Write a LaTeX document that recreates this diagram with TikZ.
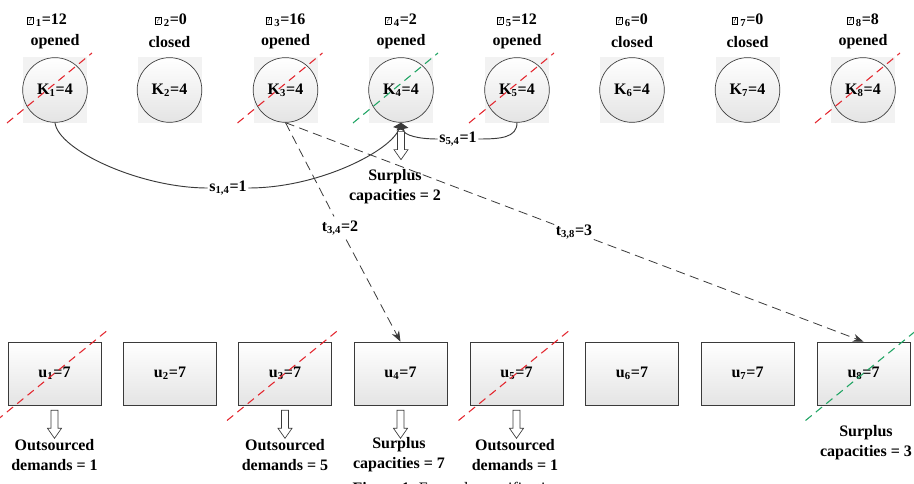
\documentclass[tikz,border=0pt]{standalone}
\usepackage{fontspec}
\setmainfont{Liberation Serif}
\usetikzlibrary{arrows.meta,positioning,backgrounds,calc}
\definecolor{fcink}{HTML}{3A3A3A}
\definecolor{fcpad}{HTML}{F2F2F2}
\definecolor{fcshade}{HTML}{E4E4E4}
\definecolor{cutred}{HTML}{E3262E}
\definecolor{cutgreen}{HTML}{1FA463}
\newcommand{\nochar}{{\setlength{\fboxsep}{0.5pt}\setlength{\fboxrule}{0.35pt}\raisebox{0.5pt}{\fbox{\fontsize{6.5}{6.5}\selectfont\mdseries ?}}}}

\begin{document}
\begin{tikzpicture}[
  x=0.75pt, y=-0.75pt,
  font=\fontsize{12}{15}\selectfont\bfseries,
  facility/.style={circle, draw=fcink, line width=0.5pt, top color=white,
    bottom color=fcshade, minimum size=48.5pt, inner sep=0pt},
  customer/.style={rectangle, draw=fcink, line width=0.5pt, top color=white,
    bottom color=fcshade, minimum width=69.75pt, minimum height=47.25pt},
  pad/.style={fill=fcpad},
  tag/.style={inner sep=1pt, align=center},
  link/.style={draw=fcink, line width=0.7pt},
  linkhead/.style={link, -{Triangle[length=5pt, width=9pt]}},
  flow/.style={draw=fcink, line width=0.6pt, dash pattern=on 7pt off 4pt},
  flowhead/.style={flow, -{Stealth[length=8pt, width=6pt]}},
  cut/.style={line width=0.8pt, dash pattern=on 6pt off 4pt},
  hollow/.pic={\draw[fill=white, draw=fcink, line width=0.5pt]
    (-3.5,0) -- (-3.5,18) -- (-7,18) -- (0,28) -- (7,18) -- (3.5,18) -- (3.5,0) -- cycle;}
]
\useasboundingbox (0,0) rectangle (914,484);

% facilities
\node[facility] (K1) at (55,90)    {K\textsubscript{1}=4};
\node[facility] (K2) at (169.5,90) {K\textsubscript{2}=4};
\node[facility] (K3) at (285.5,90) {K\textsubscript{3}=4};
\node[facility] (K4) at (401,90)   {K\textsubscript{4}=4};
\node[facility] (K5) at (517,90)   {K\textsubscript{5}=4};
\node[facility] (K6) at (632,90)   {K\textsubscript{6}=4};
\node[facility] (K7) at (747.5,90) {K\textsubscript{7}=4};
\node[facility] (K8) at (863,90)   {K\textsubscript{8}=4};
\begin{scope}[on background layer]
  \foreach \i in {1,...,8}
    \fill[pad] ($(K\i.center)+(-32,-33)$) rectangle ($(K\i.center)+(32,33)$);
\end{scope}

% costs and status
\node[tag] (phi1) at (47,20)    {\nochar\,\textsubscript{1}=12};
\node[tag] (phi2) at (171,20)   {\nochar\,\textsubscript{2}=0};
\node[tag] (phi3) at (285.5,20) {\nochar\,\textsubscript{3}=16};
\node[tag] (phi4) at (401,20)   {\nochar\,\textsubscript{4}=2};
\node[tag] (phi5) at (517,20)   {\nochar\,\textsubscript{5}=12};
\node[tag] (phi6) at (632,20)   {\nochar\,\textsubscript{6}=0};
\node[tag] (phi7) at (747.5,20) {\nochar\,\textsubscript{7}=0};
\node[tag] (phi8) at (863,20)   {\nochar\,\textsubscript{8}=8};
\node[tag] (st1) at (55,42)    {opened};
\node[tag] (st2) at (169.5,42) {closed};
\node[tag] (st3) at (285.5,42) {opened};
\node[tag] (st4) at (401,42)   {opened};
\node[tag] (st5) at (517,42)   {opened};
\node[tag] (st6) at (632,42)   {closed};
\node[tag] (st7) at (747.5,42) {closed};
\node[tag] (st8) at (863,42)   {opened};

% customers
\node[customer] (u1) at (54.5,373.5)  {u\textsubscript{1}=7};
\node[customer] (u2) at (170,373.5)   {u\textsubscript{2}=7};
\node[customer] (u3) at (285,373.5)   {u\textsubscript{3}=7};
\node[customer] (u4) at (400.5,373.5) {u\textsubscript{4}=7};
\node[customer] (u5) at (516.5,373.5) {u\textsubscript{5}=7};
\node[customer] (u6) at (632,373.5)   {u\textsubscript{6}=7};
\node[customer] (u7) at (747.5,373.5) {u\textsubscript{7}=7};
\node[customer] (u8) at (863.5,373.5) {u\textsubscript{8}=7};

% transfers between facilities
\node[tag] (s14) at (228,188) {s\textsubscript{1,4}=1};
\node[tag] (s54) at (458,139) {s\textsubscript{5,4}=1};
\draw[link] (K1.south) .. controls (58,150) and (140,188) .. (s14.west);
\draw[linkhead] (s14.east) .. controls (320,188) and (392,150) .. (K4.south);
\draw[link] (K5.south) .. controls (517,138) and (500,139) .. (s54.east);
\draw[linkhead] (s54.west) .. controls (420,139) and (404,136) .. (K4.south);

% assignments
\node[tag, inner sep=3pt] (t34) at (340,228) {t\textsubscript{3,4}=2};
\node[tag] (t38) at (574,232) {t\textsubscript{3,8}=3};
\draw[flow] (K3.south) -- (t34);
\draw[flowhead] (t34) -- (u4.north);
\draw[flow] (K3.south) -- (t38);
\draw[flowhead] (t38) -- (u8.north);

% surplus and outsourcing
\pic at ($(K4.south)+(0,9)$) {hollow};
\node[tag] (sur4) at (395,187) {Surplus\\capacities = 2};
\pic at ($(u1.south)+(0,5)$) {hollow};
\pic at ($(u3.south)+(0,5)$) {hollow};
\pic at ($(u4.south)+(0,5)$) {hollow};
\pic at ($(u5.south)+(0,5)$) {hollow};
\node[tag] (out1) at (54.5,455) {Outsourced\\demands = 1};
\node[tag] (out3) at (285,455)  {Outsourced\\demands = 5};
\node[tag] (sur7) at (399,455)  {Surplus\\capacities = 7};
\node[tag] (out5) at (515,455)  {Outsourced\\demands = 1};
\node[tag] (sur8) at (866,443)  {Surplus\\capacities = 3};

% struck out
\draw[cut, cutred]   ($(K1.center)+(-48,33)$) -- ($(K1.center)+(37,-37)$);
\draw[cut, cutred]   ($(K3.center)+(-48,33)$) -- ($(K3.center)+(37,-37)$);
\draw[cut, cutgreen] ($(K4.center)+(-48,33)$) -- ($(K4.center)+(37,-37)$);
\draw[cut, cutred]   ($(K5.center)+(-48,33)$) -- ($(K5.center)+(37,-37)$);
\draw[cut, cutred]   ($(K8.center)+(-48,33)$) -- ($(K8.center)+(37,-37)$);
\draw[cut, cutred]   ($(u1.center)+(-58,47)$) -- ($(u1.center)+(54,-44)$);
\draw[cut, cutred]   ($(u3.center)+(-58,47)$) -- ($(u3.center)+(54,-44)$);
\draw[cut, cutred]   ($(u5.center)+(-58,47)$) -- ($(u5.center)+(54,-44)$);
\draw[cut, cutgreen] ($(u8.center)+(-58,47)$) -- ($(u8.center)+(54,-44)$);

\node[font=\fontsize{12}{15}\selectfont] (caption) at (457,490)
  {\textbf{Figure 1.} Example specification};
\end{tikzpicture}
\end{document}
